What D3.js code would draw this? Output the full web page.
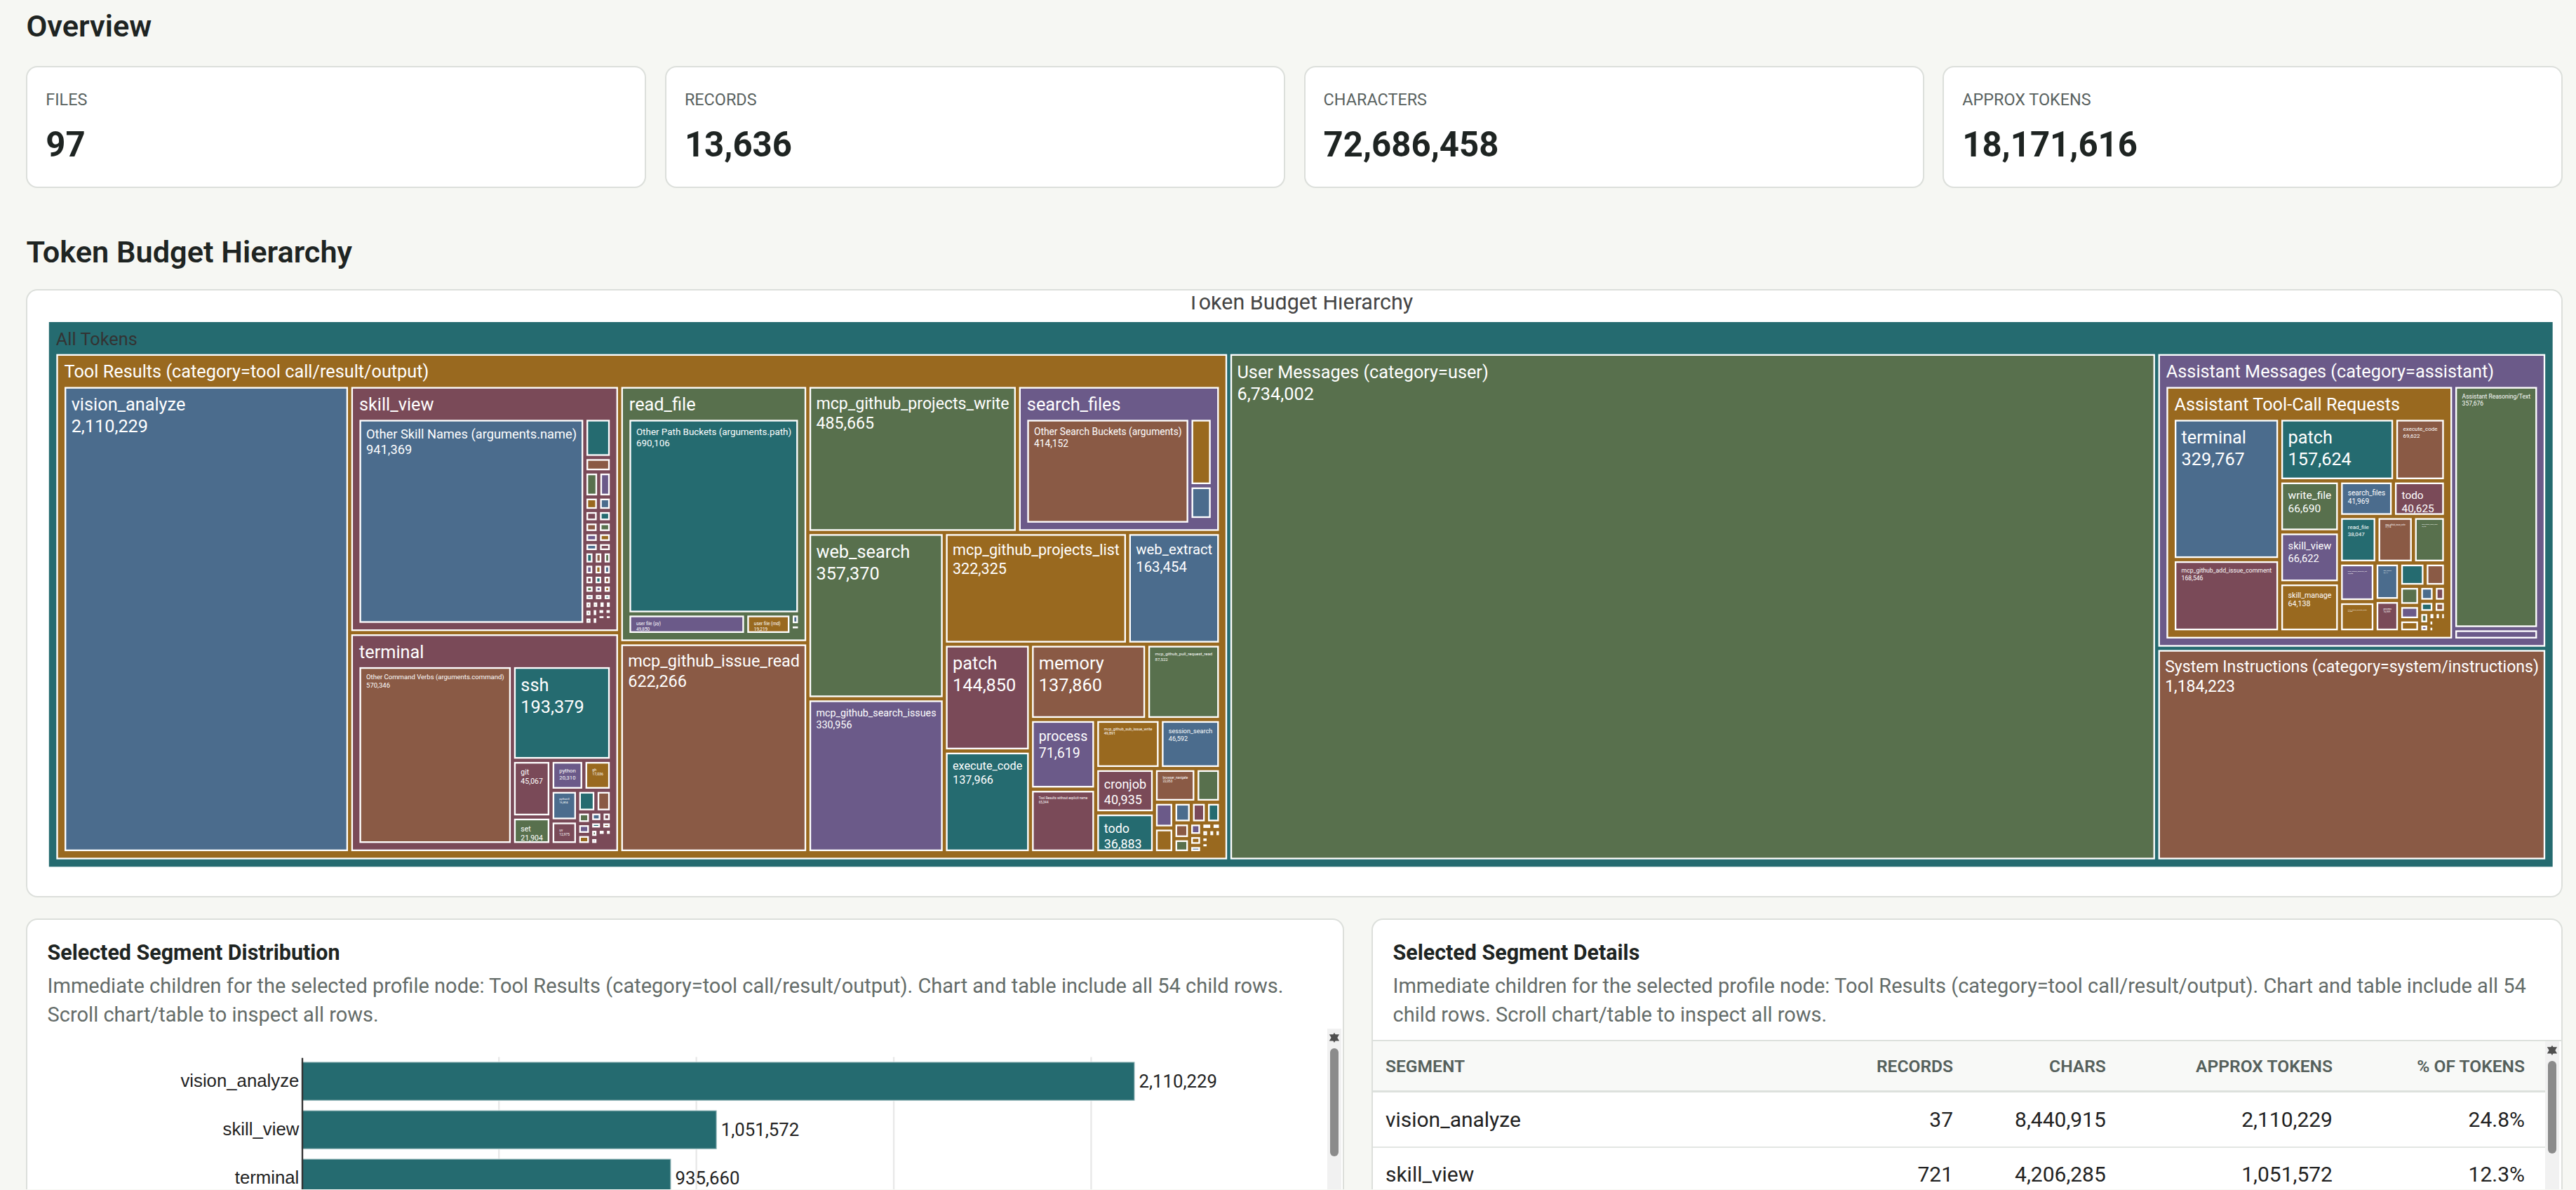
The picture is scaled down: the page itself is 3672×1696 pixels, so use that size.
<!DOCTYPE html>
<html>
<head>
<meta charset="utf-8">
<title>Token Budget</title>
<script src="https://cdn.jsdelivr.net/npm/d3@7"></script>
<style>
  /* the page is laid out at 1568px wide and zoomed up to the 3672px window */
  html { zoom: 2.3418; }
  body {
    margin: 0;
    width: 1568px;
    height: 724px;
    overflow: hidden;
    position: relative;
    background: #f6f7f3;
    color: #1e2422;
    font-family: "Segoe UI", Roboto, "Noto Sans", sans-serif;
  }
  h2 {
    position: absolute;
    left: 16px;
    margin: 0;
    font-size: 18.5px;
    line-height: 24px;
    font-weight: 600;
  }
  #h-overview { top: 4.4px; }
  #h-tree { top: 141.7px; }
  .box {
    position: absolute;
    box-sizing: border-box;
    background: #fff;
    border: 1px solid #dcdfdb;
    border-radius: 7px;
  }
  #cards {
    position: absolute;
    left: 16px;
    top: 40px;
    width: 1544px;
    height: 74.6px;
    display: grid;
    grid-template-columns: repeat(4, 1fr);
    gap: 11.5px;
  }
  #cards .box { position: relative; }
  .card-label {
    position: absolute;
    left: 11px;
    top: 13.5px;
    font-size: 10px;
    line-height: 13px;
    color: #59625f;
    text-transform: uppercase;
  }
  .card-value {
    position: absolute;
    left: 11px;
    top: 34.5px;
    font-size: 21px;
    line-height: 26px;
    font-weight: 700;
  }
  #tree-card { left: 16px; top: 176px; width: 1544px; height: 370px; }
  #treemap { position: absolute; left: 16px; top: 180.2px; }
  #dist { left: 16px; top: 559px; width: 802px; height: 420px; }
  #details { left: 835px; top: 559px; width: 725px; height: 420px; }
  .ptitle {
    position: absolute;
    left: 12px;
    top: 11px;
    font-size: 13px;
    line-height: 18px;
    font-weight: 700;
  }
  .pdesc {
    position: absolute;
    left: 12px;
    right: 12px;
    top: 31.5px;
    font-size: 12.4px;
    line-height: 17.5px;
    color: #646c69;
  }
  .scroll { position: absolute; overflow-y: scroll; overflow-x: hidden; scrollbar-width: none; }
  .scroll::-webkit-scrollbar { display: none; }
  #bar-wrap { left: 11px; top: 66px; width: 780px; height: 340px; }
  #table-wrap { left: 0; top: 73px; width: 714px; height: 332px; border-top: 1px solid #dde1dd; }
  #table-line { position: absolute; left: 714px; right: 0; top: 73px; border-top: 1px solid #dde1dd; }
  .vbar { position: absolute; width: 8.5px; background: #f1f1f1; }
  .vbar svg { position: absolute; left: 0; top: 0; }
  .vbar .thumb { position: absolute; left: 1.8px; right: 1.8px; border-radius: 3px; background: #8b8b8b; }
  table { border-collapse: collapse; table-layout: fixed; width: 714px; }
  th {
    height: 30px;
    background: #f8f9f7;
    border-bottom: 1.5px solid #dde1dd;
    font-size: 10.5px;
    font-weight: 600;
    color: #55605c;
    text-transform: uppercase;
    text-align: right;
    padding: 0 10px;
  }
  td {
    height: 32.6px;
    border-bottom: 1px solid #e3e6e3;
    font-size: 12.8px;
    color: #222;
    text-align: right;
    padding: 0 10px;
    white-space: nowrap;
  }
  th:first-child, td:first-child { text-align: left; padding-left: 7.5px; }
  th:last-child, td:last-child { padding-right: 13px; }
</style>
</head>
<body>
<h2 id="h-overview">Overview</h2>
<div id="cards"></div>
<h2 id="h-tree">Token Budget Hierarchy</h2>
<div class="box" id="tree-card"></div>
<svg id="treemap"></svg>
<div class="box" id="dist">
  <div class="ptitle">Selected Segment Distribution</div>
  <div class="pdesc" id="dist-desc"></div>
  <div class="scroll" id="bar-wrap"></div>
  <div class="vbar" id="bar-vbar" style="left:791px; top:66px; height:340px;"></div>
</div>
<div class="box" id="details">
  <div class="ptitle">Selected Segment Details</div>
  <div class="pdesc" id="details-desc"></div>
  <div class="scroll" id="table-wrap"></div>
  <div id="table-line"></div>
  <div class="vbar" id="table-vbar" style="left:713.5px; top:74px; height:332px;"></div>
</div>
<script>
// ---- data ----
const overviewLabels = ["Files", "Records", "Characters", "Approx Tokens"];
const overviewValues = [97, 13636, 72686458, 18171616];

const categoryNames = [
  "Tool Results (category=tool call/result/output)",
  "User Messages (category=user)",
  "Assistant Messages (category=assistant)",
  "System Instructions (category=system/instructions)"
];
const categoryTokens = [null, 6734002, null, 1184223]; // null = broken down below

const toolResultNames = [
  "vision_analyze", "skill_view", "terminal", "read_file", "mcp_github_issue_read",
  "mcp_github_projects_write", "search_files", "web_search", "mcp_github_search_issues",
  "mcp_github_projects_list", "web_extract", "patch", "execute_code", "memory",
  "mcp_github_pull_request_read", "process", "Tool Results without explicit name",
  "mcp_github_sub_issue_write", "session_search", "cronjob", "todo", "browser_navigate",
  "delegate_task", "mcp_github_list_issues", "clarify", "browser_snapshot",
  "mcp_github_create_issue", "browser_click", "mcp_github_get_file_contents", "send_message",
  "mcp_github_list_pull_requests", "browser_type", "mcp_github_update_issue", "image_generate",
  "browser_scroll", "mcp_github_search_code", "text_to_speech", "browser_back",
  "mcp_github_list_commits", "mixture_of_agents", "browser_press",
  "mcp_github_get_pull_request_files", "browser_close", "rl_list_environments",
  "mcp_github_create_branch", "honcho_context", "browser_get_images", "mcp_github_list_branches",
  "browser_vision", "mcp_github_fork_repository", "mcp_github_create_pull_request",
  "browser_console", "mcp_github_merge_pull_request", "mcp_github_push_files"
];
const toolResultTokens = [
  2110229, null, null, null, 622266, 485665, null, 357370, 330956, 322325, 163454, 144850,
  137966, 137860, 87522, 71619, 65344, 49891, 46592, 40935, 36883, 22053, 13022,
  7900, 7600, 5700, 4900, 4600, 3900, 3500, 2400, 1900, 1400, 1059,
  900, 800, 700, 650, 600, 550, 500, 450, 400, 350, 300, 280, 250, 220, 200, 180, 150, 120, 100, 80
];

const skillViewNames = [
  "Other Skill Names (arguments.name)", "github-issue-workflow", "github-projects-board",
  "github-pr-review", "github-repo-setup", "plan", "systematic-debugging", "code-review",
  "test-driven-development", "writing-plans", "brainstorming", "executing-plans",
  "docker-compose", "python-packaging", "release-notes", "ssh-remote-ops", "cron-scheduling",
  "web-research", "data-analysis", "markdown-docs", "git-worktrees", "ci-troubleshooting",
  "api-design", "refactoring", "dependency-audit", "log-analysis", "frontend-design",
  "sql-queries", "shell-scripting", "security-review", "performance-profiling",
  "memory-management", "image-analysis", "config-management", "incident-response",
  "project-status-report", "issue-labeling", "changelog", "backup-restore", "kanban-sync",
  "notes-capture", "skill-authoring", "onboarding", "handoff"
];
const skillViewTokens = [
  941369, 21000, 7700, 7000, 6400, 3700, 3500, 3100, 3000, 2900, 2850, 2700, 2600, 2500,
  2400, 2300, 2200, 2100, 2000, 1950, 1900, 1800, 1750, 1700, 1600, 1500, 1450, 1400, 1300,
  1250, 1200, 1150, 1100, 1050, 1000, 953, 950, 900, 850, 800, 750, 700, 650, 600
];

const terminalNames = [
  "Other Command Verbs (arguments.command)", "ssh", "git", "set", "python", "gh", "python3",
  "uv", "cd", "ls", "cat", "grep", "docker", "npm", "pip", "curl", "sed", "find", "echo",
  "make", "rg", "node", "kubectl", "systemctl", "tail", "mkdir"
];
const terminalTokens = [
  570346, 193379, 45067, 21904, 20310, 17036, 16804, 12975, 8200, 6900, 3100, 2900, 2700,
  2300, 1900, 1700, 1500, 1300, 1100, 950, 800, 700, 600, 500, 400, 289
];

const readFileNames = [
  "Other Path Buckets (arguments.path)", "user file (py)", "user file (md)",
  "user file (json)", "user file (toml)", "user file (yaml)", "user file (txt)"
];
const readFileTokens = [690106, 49850, 19219, 1900, 900, 500, 300];

const searchFilesNames = [
  "Other Search Buckets (arguments)", "user dir (src)", "user dir (tests)",
  "user dir (docs)", "user dir (scripts)", "user dir (config)"
];
const searchFilesTokens = [414152, 36000, 18000, 1600, 600, 300];

const assistantNames = ["Assistant Tool-Call Requests", "Assistant Reasoning/Text", "Assistant Other Content"];
const assistantTokens = [null, 357676, 16800];

const toolCallNames = [
  "terminal", "mcp_github_add_issue_comment", "patch", "execute_code", "write_file",
  "skill_view", "skill_manage", "search_files", "todo", "read_file", "mcp_github_issue_write",
  "mcp_github_issue_read", "mcp_github_projects_list", "mcp_github_projects_write",
  "web_search", "process", "session_search", "memory", "mcp_github_sub_issue_write",
  "mcp_github_search_issues", "cronjob", "web_extract", "vision_analyze", "delegate_task",
  "browser_navigate", "mcp_github_pull_request_read", "clarify", "send_message",
  "browser_click", "browser_snapshot", "mcp_github_create_issue", "browser_type",
  "mcp_github_update_issue", "image_generate", "browser_scroll", "mcp_github_list_issues",
  "text_to_speech", "mcp_github_get_file_contents", "browser_back", "mixture_of_agents"
];
const toolCallTokens = [
  329767, 168546, 157624, 69622, 66690, 66622, 64138, 41969, 40625, 38047, 37114, 32626,
  30050, 23500, 20144, 16939, 13000, 10400, 8400, 6300, 5300, 4800, 3700, 3500, 2800, 2300,
  1600, 1000, 900, 800, 700, 650, 600, 500, 450, 400, 350, 300, 250, 200
];

// table columns known only for the rows that are on screen
const detailRecords = [37, 721];
const detailChars = [8440915, 4206285];

// ---- colours ----
const palette = {
  blue: "#4b6c8d", plum: "#7a4a58", teal: "#256b70", brown: "#8a5a45",
  green: "#58704d", purple: "#6b5a89", gold: "#99691f"
};
const cycle = ["blue", "plum", "teal", "brown", "green", "purple", "gold"];
const categoryColors = ["gold", "green", "purple", "brown"];
const toolResultColors = [
  "blue", "plum", "plum", "green", "brown", "green", "purple", "green", "purple", "gold",
  "blue", "plum", "teal", "brown", "green", "purple", "plum", "gold", "blue", "plum",
  "teal", "brown", "green"
];
const skillViewColors = ["blue"];
const terminalColors = ["brown", "teal", "plum", "green", "purple", "gold", "blue", "plum"];
const readFileColors = ["teal", "purple", "gold"];
const searchFilesColors = ["brown", "gold", "blue"];
const assistantColors = ["gold", "green", "purple"];

// ---- build the hierarchy ----
function nodes(names, tokens, colors, offset, expand = {}) {
  return names.map((name, i) => {
    const color = colors[i] || cycle[(i + offset) % cycle.length];
    return expand[name]
      ? { name, color, children: expand[name] }
      : { name, color, value: tokens[i] };
  });
}

const toolResults = nodes(toolResultNames, toolResultTokens, toolResultColors, 3, {
  skill_view: nodes(skillViewNames, skillViewTokens, skillViewColors, 1),
  terminal: nodes(terminalNames, terminalTokens, terminalColors, 1),
  read_file: nodes(readFileNames, readFileTokens, readFileColors, 4),
  search_files: nodes(searchFilesNames, searchFilesTokens, searchFilesColors, 5)
});
const assistant = nodes(assistantNames, assistantTokens, assistantColors, 0, {
  "Assistant Tool-Call Requests": nodes(toolCallNames, toolCallTokens, [], 0)
});
const tree = {
  name: "All Tokens",
  color: "teal",
  children: nodes(categoryNames, categoryTokens, categoryColors, 0, {
    [categoryNames[0]]: toolResults,
    [categoryNames[2]]: assistant
  })
};

const fmt = d3.format(",");

// ---- overview cards ----
const cards = d3.select("#cards").selectAll("div")
  .data(overviewLabels)
  .join("div")
    .attr("class", "box");
cards.append("div").attr("class", "card-label").text(d => d);
cards.append("div").attr("class", "card-value").text((d, i) => fmt(overviewValues[i]));

// ---- treemap ----
const svgW = 1544, svgH = 360;
const mapW = 1524, mapH = 331.5;
const maxFont = 12, narrow = 0.9; // laid out for a 12px label, drawn a bit smaller
const svg = d3.select("#treemap").attr("width", svgW).attr("height", svgH);

svg.append("text")
  .attr("x", 775.5)
  .attr("y", 7.9)
  .attr("text-anchor", "middle")
  .attr("font-size", 13)
  .attr("fill", "#444")
  .text("Token Budget Hierarchy");

const root = d3.hierarchy(tree)
  .sum(d => d.value || 0)
  .sort((a, b) => b.value - a.value);

d3.treemap()
  .tile(d3.treemapSquarify.ratio(1))
  .size([mapW, mapH])
  .paddingTop(20)
  .paddingLeft(5)
  .paddingRight(5)
  .paddingBottom(5)
  .paddingInner(3)(root);

const g = svg.append("g").attr("transform", "translate(14,15.8)");

const probe = svg.append("text").attr("font-size", maxFont * narrow).attr("visibility", "hidden");
const measure = s => probe.text(s).node().getComputedTextLength() / narrow;

const cell = g.selectAll("g")
  .data(root.descendants())
  .join("g")
    .attr("transform", d => `translate(${d.x0},${d.y0})`);

cell.append("rect")
  .attr("width", d => Math.max(0, d.x1 - d.x0))
  .attr("height", d => Math.max(0, d.y1 - d.y0))
  .attr("fill", d => palette[d.data.color])
  .attr("stroke", d => d.depth ? "#fff" : "none")
  .attr("stroke-width", 1);

cell.each(function(d) {
  const w = d.x1 - d.x0, h = d.y1 - d.y0;
  const el = d3.select(this);
  const fill = d.depth ? "#fff" : "#333";
  if (d.children) {
    const fs = Math.min(maxFont, maxFont * (w - 8) / (measure(d.data.name) * narrow));
    if (fs < 1) return;
    el.append("text")
      .attr("x", 4.3)
      .attr("y", 10 + fs * narrow * 0.36)
      .attr("font-size", fs * narrow)
      .attr("fill", fill)
      .text(d.data.name);
  } else {
    const lines = [d.data.name, fmt(d.value)];
    const widest = Math.max(...lines.map(measure)) * narrow;
    const fs = Math.min(maxFont, maxFont * (w - 7) / widest, (h - 3) / 2.15);
    if (fs < 1) return;
    const t = el.append("text").attr("font-size", fs * narrow).attr("fill", fill);
    lines.forEach((line, i) => {
      t.append("tspan")
        .attr("x", 3.6)
        .attr("y", 2.6 + fs * 0.95 + i * fs * 1.1)
        .text(line);
    });
  }
});
probe.remove();

// ---- selected segment: Tool Results ----
const selected = root.children.find(c => c.data.name === categoryNames[0]);
const rows = selected.children;
const note = `Immediate children for the selected profile node: ${selected.data.name}. ` +
  `Chart and table include all ${rows.length} child rows. Scroll chart/table to inspect all rows.`;
d3.select("#dist-desc").text(note);
d3.select("#details-desc").text(note);

// bar chart
const wrap = document.getElementById("bar-wrap");
const bw = 780;
const margin = { top: 17.3, right: 56.2, bottom: 30, left: 155.8 };
const step = 29.5;
const innerH = rows.length * step;
const innerW = bw - margin.left - margin.right;

const bsvg = d3.select(wrap).append("svg")
  .attr("width", bw)
  .attr("height", innerH + margin.top + margin.bottom)
  .style("display", "block");
const bg = bsvg.append("g").attr("transform", `translate(${margin.left},${margin.top})`);

const x = d3.scaleLinear()
  .domain([0, d3.max(rows, d => d.value) * 1.12])
  .range([0, innerW]);
const y = d3.scaleBand()
  .domain(rows.map(d => d.data.name))
  .range([0, innerH])
  .paddingInner(0.2)
  .paddingOuter(0.1);

bg.append("g")
  .selectAll("line")
  .data(x.ticks(5).filter(t => t > 0))
  .join("line")
    .attr("x1", d => x(d))
    .attr("x2", d => x(d))
    .attr("y1", 0)
    .attr("y2", innerH)
    .attr("stroke", "#e8e8e8");

bg.selectAll("rect.bar")
  .data(rows)
  .join("rect")
    .attr("class", "bar")
    .attr("x", 0)
    .attr("y", d => y(d.data.name))
    .attr("width", d => x(d.value))
    .attr("height", y.bandwidth())
    .attr("fill", palette.teal)
    .attr("stroke", "rgba(255,255,255,0.45)")
    .attr("stroke-width", 1);

bg.selectAll("text.val")
  .data(rows)
  .join("text")
    .attr("class", "val")
    .attr("x", d => x(d.value) + 2.6)
    .attr("y", d => y(d.data.name) + y.bandwidth() / 2)
    .attr("dy", "0.35em")
    .attr("font-size", 11)
    .attr("fill", "#222")
    .text(d => fmt(d.value));

const yAxis = bg.append("g")
  .call(d3.axisLeft(y).tickSize(0).tickPadding(1.5));
yAxis.select(".domain").attr("stroke", "#333");
yAxis.selectAll("text").attr("font-size", 11).attr("fill", "#222").attr("font-family", null);

bg.append("g")
  .attr("transform", `translate(0,${innerH})`)
  .call(d3.axisBottom(x).ticks(5).tickFormat(d3.format("~s")))
  .call(a => a.selectAll("text").attr("font-family", null).attr("fill", "#444"));

// details table
const tableWrap = document.getElementById("table-wrap");
const table = d3.select(tableWrap).append("table");
const headers = ["Segment", "Records", "Chars", "Approx Tokens", "% of Tokens"];
const colWidths = [273, 90, 93, 138, 120];
table.append("colgroup").selectAll("col")
  .data(colWidths)
  .join("col")
    .style("width", d => d + "px");
table.append("thead").append("tr")
  .selectAll("th")
  .data(headers)
  .join("th")
    .text(d => d);
const tr = table.append("tbody")
  .selectAll("tr")
  .data(rows)
  .join("tr");
tr.append("td").text(d => d.data.name);
tr.append("td").text((d, i) => i < detailRecords.length ? fmt(detailRecords[i]) : "");
tr.append("td").text((d, i) => i < detailChars.length ? fmt(detailChars[i]) : "");
tr.append("td").text(d => fmt(d.value));
tr.append("td").text(d => d3.format(".1%")(d.value / selected.value));

// slim scrollbars that follow the scroll position of their container
function scrollbar(bar, box) {
  const arrowH = 11;
  const trackH = box.clientHeight - 2 * arrowH;
  const sel = d3.select(bar);
  sel.append("svg").attr("width", 8.5).attr("height", arrowH)
    .append("path").attr("d", "M4.25,2.5 L7.3,7.5 L1.2,7.5 Z").attr("fill", "#505050");
  sel.append("svg").attr("width", 8.5).attr("height", arrowH)
    .style("top", null).style("bottom", "0px")
    .append("path").attr("d", "M1.2,3.5 L7.3,3.5 L4.25,8.5 Z").attr("fill", "#505050");
  const thumb = sel.append("div").attr("class", "thumb");
  const update = () => {
    const frac = box.clientHeight / box.scrollHeight;
    const len = Math.max(20, trackH * frac);
    const pos = (trackH - len) * (box.scrollTop / Math.max(1, box.scrollHeight - box.clientHeight));
    thumb.style("top", (arrowH + 1 + pos) + "px").style("height", len + "px");
  };
  box.addEventListener("scroll", update);
  update();
}
scrollbar(document.getElementById("bar-vbar"), wrap);
scrollbar(document.getElementById("table-vbar"), tableWrap);
</script>
</body>
</html>
